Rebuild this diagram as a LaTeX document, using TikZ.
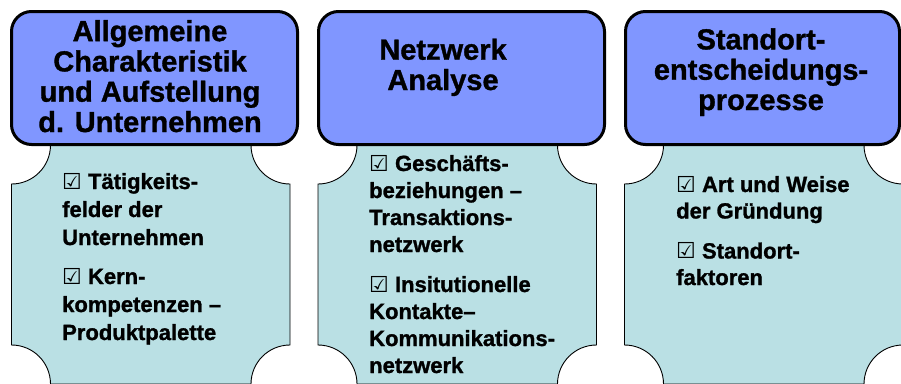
\documentclass[tikz,border=0pt]{standalone}
\usepackage{fontspec}
\setmainfont{Liberation Sans}[BoldFeatures={FakeBold=1.2}]
\newfontfamily\symfont{DejaVu Sans}
\definecolor{hdr}{RGB}{128,150,255}
\definecolor{plq}{RGB}{186,224,228}
\newcommand{\cbx}{{\symfont\mdseries ☑}}
\begin{document}
\begin{tikzpicture}[x=1pt,y=-1pt,
  header/.style={draw=black,line width=3pt,fill=hdr,rounded corners=20pt},
  plaque/.style={draw=black,line width=0.9pt,fill=plq},
  htext/.style={font=\fontsize{29}{30.3}\selectfont\bfseries,align=center,inner sep=0pt,anchor=base},
  btext/.style={font=\fontsize{22}{28}\selectfont\bfseries,align=left,inner sep=0pt,anchor=base west}]
\useasboundingbox (0,0) rectangle (901,383);
\clip (0,0) rectangle (901,383);
% plaques
\path[plaque] (50.5,145) -- (251,145) arc[start angle=180,end angle=90,radius=39] -- (290,345) arc[start angle=270,end angle=180,radius=39] -- (50.5,384) arc[start angle=0,end angle=-90,radius=39] -- (11.5,184) arc[start angle=90,end angle=0,radius=39] -- cycle;
\path[plaque] (357,145) -- (557.5,145) arc[start angle=180,end angle=90,radius=39] -- (596.5,345) arc[start angle=270,end angle=180,radius=39] -- (357,384) arc[start angle=0,end angle=-90,radius=39] -- (318,184) arc[start angle=90,end angle=0,radius=39] -- cycle;
\path[plaque] (663.5,145) -- (864,145) arc[start angle=180,end angle=90,radius=39] -- (903,345) arc[start angle=270,end angle=180,radius=39] -- (663.5,384) arc[start angle=0,end angle=-90,radius=39] -- (624.5,184) arc[start angle=90,end angle=0,radius=39] -- cycle;
% headers
\path[header] (11.5,11.5) rectangle (297.5,144.5);
\path[header] (318.5,11.5) rectangle (604.5,144.5);
\path[header] (625.5,11.5) rectangle (899.5,144.5);
% header texts (anchored at the baseline of the last line)
\node[htext] (h1) at (150,132) {Allgemeine\\Charakteristik\\und Aufstellung\\d. Unternehmen};
\node[htext] (h2) at (443,90) {Netzwerk\\Analyse};
\node[htext] (h3) at (761,110) {Standort-\\entscheidungs-\\prozesse};
% body texts
\node[btext] (b1) at (62,340) {\cbx\ Tätigkeits-\\felder der\\Unternehmen\\[11pt]\cbx\ Kern-\\kompetenzen –\\Produktpalette};
\node[btext,font=\fontsize{22}{27}\selectfont\bfseries] (b2) at (369,373) {\cbx\ Geschäfts-\\beziehungen –\\Transaktions-\\netzwerk\\[13pt]\cbx\ Insitutionelle\\Kontakte–\\Kommunikations-\\netzwerk};
\node[btext,font=\fontsize{22}{26.5}\selectfont\bfseries] (b3) at (676,285) {\cbx\ Art und Weise\\der Gründung\\[13.5pt]\cbx\ Standort-\\faktoren};
\end{tikzpicture}
\end{document}
